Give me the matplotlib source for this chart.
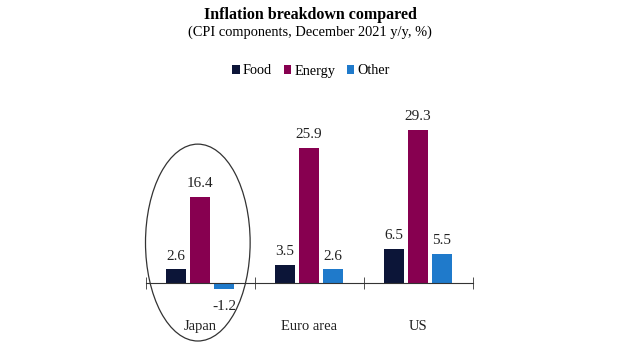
import matplotlib.pyplot as plt
from matplotlib.patches import Ellipse
import numpy as np

regions = ['Japan', 'Euro area', 'US']
food = [2.6, 3.5, 6.5]
energy = [16.4, 25.9, 29.3]
other = [-1.2, 2.6, 5.5]

plt.rcParams['font.family'] = ['Liberation Serif', 'DejaVu Serif']

fig = plt.figure(figsize=(6.2, 3.55), dpi=100)
ax = fig.add_axes([145.5 / 620, 20 / 355, 327 / 620, 235 / 355])

x = np.arange(len(regions))
w = 0.175
step = 0.22
series = [('Food', food, '#0c1538'), ('Energy', energy, '#870050'), ('Other', other, '#1f7acb')]
for i, (name, vals, col) in enumerate(series):
    bars = ax.bar(x + (i - 1) * step, vals, w, color=col, label=name)
    for b, v in zip(bars, vals):
        off = 9.5 if v >= 0 else -12.5
        ax.annotate(f'{v:.1f}', (b.get_x() + b.get_width() / 2, v), xytext=(0, off),
                    textcoords='offset points', ha='center', va='center', fontsize=11, color='#222222')

ax.set_xlim(-0.5, 2.5)
ax.set_ylim(-10, 35)
for s in ['top', 'right', 'left']:
    ax.spines[s].set_visible(False)
ax.spines['bottom'].set_position(('data', 0))
ax.spines['bottom'].set_color('#333333')
ax.set_yticks([])
ax.set_xticks([])
ax.set_xticks([-0.5, 0.5, 1.5, 2.5], minor=True)
ax.tick_params(axis='x', which='minor', direction='inout', length=8, color='#333333', labelbottom=False)

for xi, r in zip(x, regions):
    ax.text(xi, -8.4, r, ha='center', va='center', fontsize=10.5, color='#222222')

ax.add_patch(Ellipse((-0.02, 7.7), 0.96, 37.7, fill=False, edgecolor='#333333', linewidth=0.9, clip_on=False))

fig.text(0.5, 1 - 15 / 355, 'Inflation breakdown compared', ha='center', va='center',
         fontsize=11.5, fontweight='bold')
fig.text(0.5, 1 - 32 / 355, '(CPI components, December 2021 y/y, %)', ha='center', va='center', fontsize=10.4)

fig.legend(loc='center', bbox_to_anchor=(311 / 620, 1 - 71 / 355), ncol=3, frameon=False, fontsize=10.3,
           handlelength=0.55, handleheight=0.55, handletextpad=0.2, columnspacing=0.8, borderpad=0)

fig.savefig('out.png', dpi=100)
